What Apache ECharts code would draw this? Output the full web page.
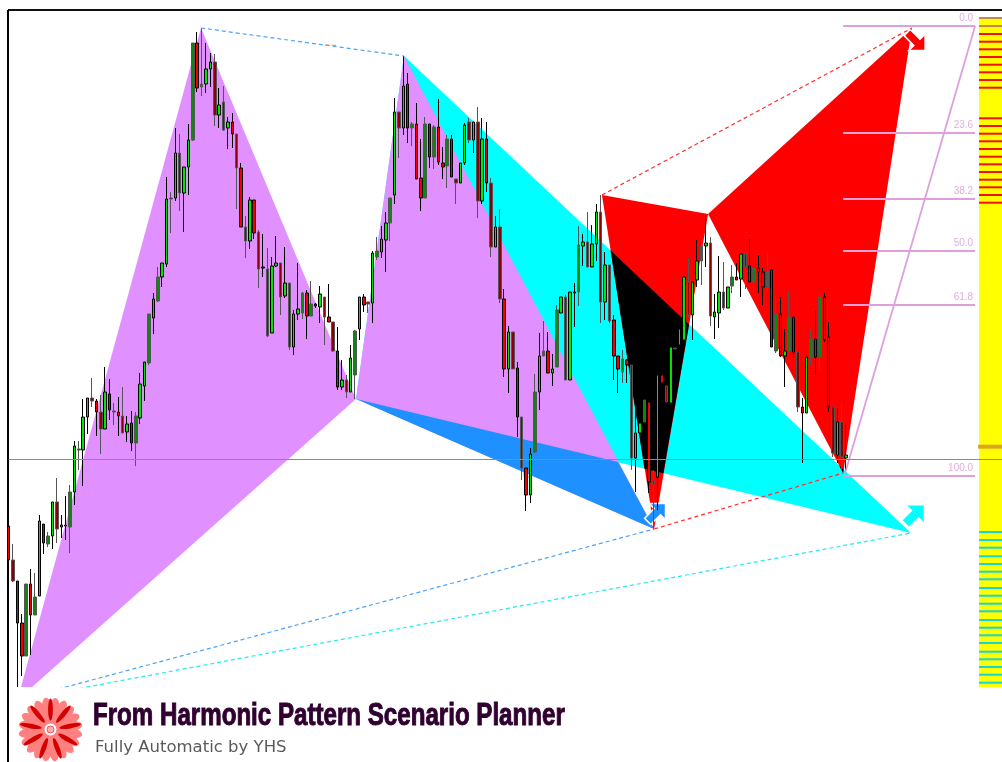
<!DOCTYPE html>
<html><head><meta charset="utf-8">
<style>html,body{margin:0;padding:0;background:#fff}#c{width:1002px;height:762px}</style>
<script src="https://cdn.jsdelivr.net/npm/echarts@6/dist/echarts.min.js"></script>
</head><body><div id="c"></div>
<script>
// Candles: one entry per bar, price in chart points
const opens=[161,127,106,64,31,103,72,91,163,143,151,185,160,161,160,195,238,237,270,289,286,275,258,293,276,275,271,255,264,244,269,301,324,369,386,410,423,489,489,534,494,520,547,644,600,603,618,625,572,585,559,565,553,519,460,446,487,455,420,418,354,421,424,391,404,340,373,374,394,371,383,380,390,370,365,336,300,307,295,312,358,390,385,384,430,435,447,464,492,575,559,603,559,563,509,489,563,530,560,524,521,548,508,504,524,565,547,565,486,548,504,440,460,388,318,355,319,270,219,192,235,295,331,336,314,320,374,390,307,395,395,441,445,420,443,475,385,422,367,331,315,327,322,229,254,265,285,206,210,312,301,284,339,342,347,405,372,407,426,441,444,370,374,395,379,401,410,408,433,421,405,419,415,400,417,336,373,331,336,370,335,280,274,330,348,330,390,350,280,232,265,229];
const closes=[127,106,64,31,103,72,90,166,144,151,185,158,162,162,195,241,237,270,289,286,275,258,295,277,275,271,254,263,244,271,303,325,373,388,410,424,488,488,534,494,520,547,644,599,603,618,625,572,582,557,565,553,519,460,446,487,454,418,419,351,421,424,390,404,340,373,378,394,371,383,381,393,370,365,336,300,307,295,329,356,390,382,383,434,436,448,464,489,575,559,601,559,563,508,489,563,530,560,525,520,548,510,504,524,562,547,565,486,548,504,440,460,388,318,355,318,270,219,192,233,295,331,336,314,318,377,390,307,395,394,442,445,420,443,475,385,422,366,331,318,328,322,229,254,264,287,205,203,312,304,285,340,338,358,410,372,405,426,441,444,371,375,395,379,400,410,407,433,420,405,419,415,400,416,340,373,331,336,370,335,280,274,330,348,330,390,347,280,234,265,230,232];
const lows=[107,105,0,11,31,32,72,91,133,140,138,144,149,147,134,182,217,201,253,280,251,233,258,267,262,251,254,245,236,221,263,286,322,353,385,400,420,454,486,476,455,492,546,595,591,594,600,561,559,556,538,539,478,460,429,438,448,399,410,350,354,420,372,389,337,332,367,368,348,371,379,364,342,365,335,297,297,289,295,288,347,375,374,364,427,429,415,446,483,529,552,544,541,508,476,489,519,518,522,508,499,510,483,504,522,544,534,469,483,495,430,440,384,310,294,318,250,207,176,184,234,277,331,314,301,320,374,307,307,360,381,421,420,420,426,364,367,364,307,294,304,304,217,195,254,265,194,157,177,304,285,284,338,342,347,370,347,400,402,420,361,348,359,377,379,394,407,390,398,405,393,394,382,394,340,334,330,300,336,329,275,224,274,322,312,316,345,275,230,224,217,213];
const highs=[174,143,106,73,103,118,114,172,163,155,185,209,172,191,202,246,246,288,289,309,288,292,320,308,284,290,300,271,276,275,314,325,373,394,420,424,510,495,559,553,520,563,644,655,659,644,634,633,599,601,570,574,553,524,471,490,487,457,453,439,430,451,424,440,404,377,424,395,397,406,384,401,390,403,365,360,327,312,342,357,390,393,385,436,450,461,475,489,589,575,631,614,565,584,548,570,563,562,588,540,552,552,508,524,564,569,565,580,569,565,509,471,478,398,361,355,325,270,219,239,313,354,366,355,333,382,390,392,395,404,461,453,475,462,483,492,435,422,372,331,337,328,322,283,264,287,285,217,312,312,301,340,339,358,410,429,405,447,450,472,450,393,431,425,400,422,424,433,433,448,419,432,419,435,417,390,390,358,396,371,335,289,330,358,376,394,394,365,280,279,284,262];

// Harmonic pattern pivots as [bar, price]
const trianglePurpleLeft=[[2.01,-13],[43.86,659],[79.2,288]];
const trianglePurpleRight=[[79.2,288],[90.15,631],[147.2,158]];
const triangleCyan=[[79.2,288],[90.15,631],[205.8,154]];
const triangleBlue=[[79.2,288],[138.96,225],[147.2,158]];
const triangleRedLeft=[[135.3,492],[159.5,473],[147.2,158]];
const triangleRedRight=[[159.5,473],[206,659],[190.3,214]];
const overlapLarge=[[137.27,436.6],[155.15,362.5],[149.3,213.7],[145,218.3]];
const overlapSmall=[[189.4,221.5],[190.4,217.4],[190.3,214]];

const dashBlueTop=[[43.86,659],[90.15,631]];
const dashBlueBottom=[[2.01,-13],[147.2,158]];
const dashCyanBottom=[[2.01,-13],[205.8,154]];
const dashRedTop=[[135.3,492],[206,659]];
const dashRedBottom=[[147.2,158],[190.3,214]];
const dashOrangeTop=[[72.1,642],[75.2,641.5]];

const arrowsBlue=[[147.4,173]];
const arrowsCyan=[[206.3,171]];
const arrowsRed=[[206.6,647]];
const markerRing=[[118.2,213]];

// Fibonacci levels
const fibLabels=['0.0','23.6','38.2','50.0','61.8','100.0'];
const fibPrices=[661,554,488,436,382,211];
const fibStartBar=190.3, fibEndBar=220.4;
const fibDiagonal=[[220.4,661],[190.7,213]];

// Side meter
const meterTop=669;
const meterStripesRed=[653,645.3,637.7,630,622.3,614.7,607,599.3,568.7,561,553.3,545.7,538,530.3,522.7,515,507.3,499.7,492,484.3];
const meterStripesBrown=[669,661];
const meterStripesGold=[240.3];
const meterStripesCyan=[155,147,139.3,130.7,123,115.3,107.7,99,91.3,83.3,75.7,67,59.3,51.7,44,35.3,27.7,20,12.3,4.3];
const meterBars=[221.3,226.53];
const priceLine=227.5;

const chart=echarts.init(document.getElementById('c'),null,{renderer:'canvas'});

function poly(points,fill){
  return {type:'custom',coordinateSystem:'cartesian2d',clip:true,silent:true,data:points,
    renderItem:(p,api)=>p.dataIndex>0?null:({type:'polygon',
      shape:{points:points.map(v=>api.coord(v))},style:{fill:fill}})};
}
function dash(points,color){
  return {type:'line',data:points,symbol:'none',silent:true,clip:true,
    lineStyle:{color:color,width:1.2,type:[4,3]}};
}
const arrowPath='path://M4,0 H20 V16 L15,11 L5.5,20.5 L-0.5,14.5 L9,5 Z';
function arrow(points,color,rot,border){
  return {type:'scatter',data:points,symbol:arrowPath,symbolSize:[21,21],symbolRotate:rot,silent:true,
    itemStyle:{color:color,opacity:1,borderColor:border||color,borderWidth:border?1.5:0}};
}
function stripes(values,color,thick,extraLeft){
  return {type:'custom',coordinateSystem:'cartesian2d',clip:false,silent:true,
    data:values.map(v=>[meterBars[0],v]),
    renderItem:(p,api)=>{
      const a=api.coord([meterBars[0],api.value(1)]),b=api.coord([meterBars[1],api.value(1)]);
      return {type:'rect',shape:{x:a[0]-(extraLeft||0),y:a[1]-thick/2,width:b[0]-a[0]+(extraLeft||0),height:thick},style:{fill:color}};
    }};
}

const darkPhase=i=>{const k=(i+2*Math.floor((i+31)/62))%5;return k===1||k===4;};
const candleData=opens.map((o,i)=>{
  const up=closes[i]>=o, dim=darkPhase(i);
  const fill=up?(dim?'#0a8a0a':'#00e600'):(dim?'#8b0000':'#f00000');
  const edge=dim?'#555555':'#000000';
  return {value:[i,o,closes[i],lows[i],highs[i]],
    itemStyle:{color:fill,color0:fill,borderColor:edge,borderColor0:edge,borderWidth:1}};
});

const meter={type:'custom',coordinateSystem:'cartesian2d',clip:false,silent:true,data:[[meterBars[0],0],[meterBars[1],meterTop]],
  renderItem:(p,api)=>{
    if(p.dataIndex>0)return null;
    const a=api.coord([meterBars[0],meterTop]),b=api.coord([meterBars[1],0]);
    return {type:'rect',shape:{x:a[0],y:a[1],width:b[0]-a[0],height:b[1]-a[1]},style:{fill:'#ffff00'}};
  }};

const fibLines=fibPrices.map(v=>({type:'line',data:[[fibStartBar,v],[fibEndBar,v]],symbol:'none',silent:true,
  lineStyle:{color:'#dda0dd',width:1.8}}));
const fibText={type:'custom',coordinateSystem:'cartesian2d',clip:false,silent:true,
  data:fibPrices.map(v=>[fibEndBar,v]),
  renderItem:(p,api)=>{
    const c=api.coord([api.value(0),api.value(1)]);
    return {type:'text',x:c[0]-2,y:c[1]-3,style:{text:fibLabels[p.dataIndex],fill:'#e0aee0',
      font:'10px "Liberation Sans"',align:'right',verticalAlign:'bottom'}};
  }};

const petals=[];
for(let k=0;k<20;k++)petals.push({type:'ellipse',rotation:k*Math.PI/10+0.15,
  shape:{cx:0,cy:-21,rx:5,ry:11},style:{fill:'#ff8080'}});
petals.push({type:'circle',shape:{cx:0,cy:0,r:22},style:{fill:'#ff8080'}});
for(let k=0;k<9;k++)petals.push({type:'ellipse',rotation:k*2*Math.PI/9,
  shape:{cx:0,cy:-20,rx:2.4,ry:11},style:{fill:'#d40000'}});
petals.push({type:'circle',shape:{cx:0,cy:0,r:6.5},style:{fill:'#ffffff',stroke:'#ff8080',lineWidth:1}});
petals.push({type:'circle',shape:{cx:0,cy:0,r:3.5},style:{fill:'#ffb0b0',stroke:'#ff5050',lineWidth:1}});

chart.setOption({
  animation:false,
  backgroundColor:'#ffffff',
  grid:{left:8.67,right:0,top:11,bottom:75,show:false},
  xAxis:{type:'value',min:0,max:226.53,show:false,scale:false},
  yAxis:{type:'value',min:0,max:676,show:false,scale:false},
  series:[
    poly(triangleCyan,'#00ffff'),
    poly(trianglePurpleLeft,'#e090ff'),
    poly(trianglePurpleRight,'#e090ff'),
    poly(triangleBlue,'#1e90ff'),
    poly(triangleRedLeft,'#ff0000'),
    poly(triangleRedRight,'#ff0000'),
    poly(overlapLarge,'#000000'),
    poly(overlapSmall,'#000000'),
    dash(dashBlueTop,'#4aa3ff'),
    dash(dashOrangeTop,'#e09050'),
    dash(dashBlueBottom,'#4aa3ff'),
    dash(dashCyanBottom,'#20ecec'),
    dash(dashRedTop,'#ff3030'),
    dash(dashRedBottom,'#ff3030'),
    ...fibLines,
    {type:'line',data:fibDiagonal,symbol:'none',silent:true,lineStyle:{color:'#dda0dd',width:1.8}},
    fibText,
    meter,
    stripes(meterStripesRed,'#f01010',2),
    stripes(meterStripesBrown,'#c8864a',2),
    stripes(meterStripesCyan,'#10d8d8',2),
    stripes(meterStripesGold,'#daa520',4,1),
    arrow(arrowsBlue,'#1e90ff',0,'#ffffff'),
    arrow(arrowsCyan,'#00ffff',0),
    arrow(arrowsRed,'#ff0000',-90,'#ffffff'),
    {type:'scatter',data:markerRing,symbol:'circle',symbolSize:7,silent:true,
      itemStyle:{color:'rgba(0,0,0,0)',borderColor:'#d8a050',borderWidth:1}},
    {type:'candlestick',data:candleData,barWidth:3,clip:true,silent:true},
    {type:'line',data:[[0,priceLine],[226.53,priceLine]],symbol:'none',silent:true,
      lineStyle:{color:'#7f8f98',width:1}}
  ],
  graphic:[
    {type:'line',shape:{x1:8,y1:10,x2:1002,y2:10},style:{stroke:'#111',lineWidth:2}},
    {type:'line',shape:{x1:8,y1:10,x2:8,y2:762},style:{stroke:'#000',lineWidth:2}},
    {type:'group',x:50.5,y:729.5,children:petals},
    {type:'text',x:93,y:716,scaleX:0.778,originX:0,originY:0,style:{text:'From Harmonic Pattern Scenario Planner',fill:'#300030',stroke:'#300030',lineWidth:1,
      font:'bold 31px "Liberation Sans"',verticalAlign:'middle'}},
    {type:'text',x:95,y:748,scaleX:1.1,originX:0,originY:0,style:{text:'Fully Automatic by YHS',fill:'#5a5a5a',
      font:'15px "DejaVu Sans"',verticalAlign:'middle'}}
  ]
});
</script></body></html>
